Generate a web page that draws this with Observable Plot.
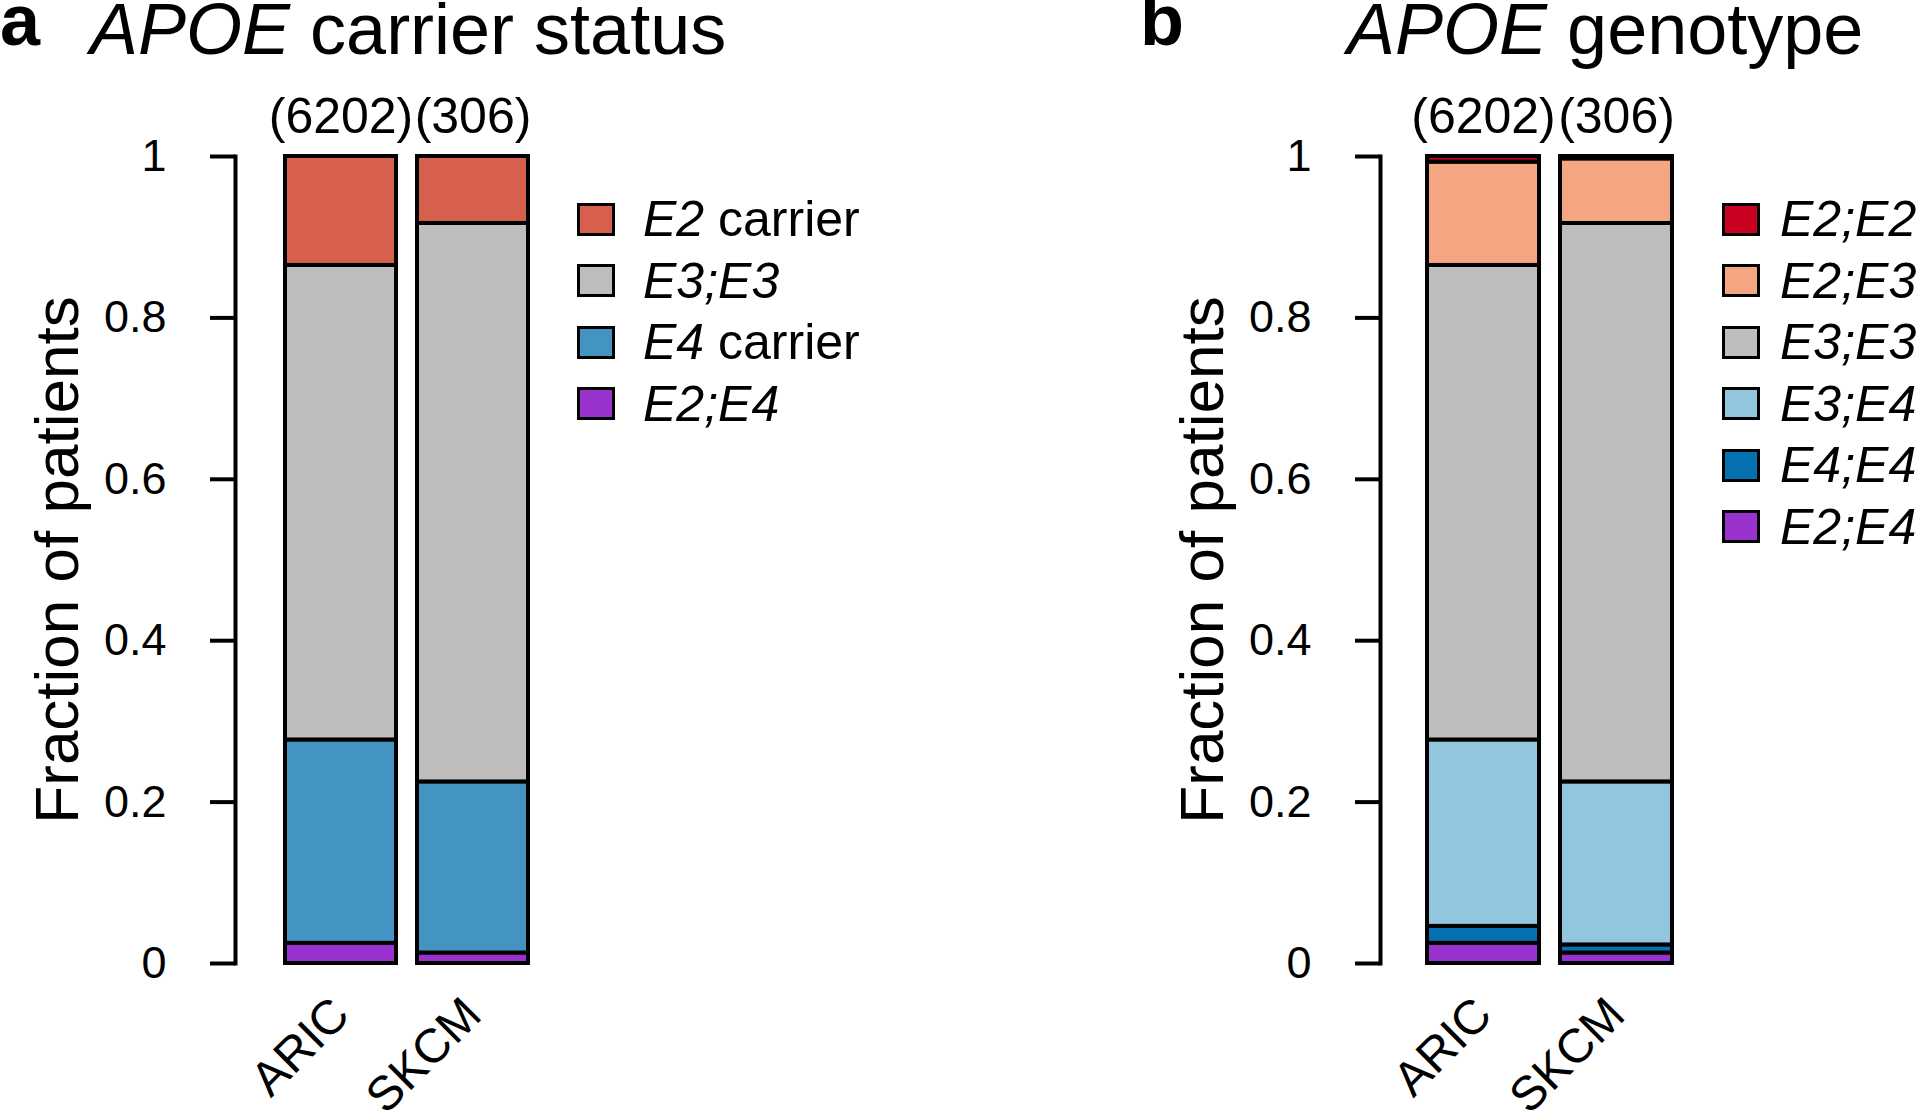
<!DOCTYPE html>
<html>
<head>
<meta charset="utf-8">
<script src="https://cdn.jsdelivr.net/npm/d3@7"></script>
<script src="https://cdn.jsdelivr.net/npm/@observablehq/plot@0.6"></script>
<style>
  html, body { margin: 0; padding: 0; background: #fff; }
  #root { position: relative; width: 1920px; height: 1116px; overflow: hidden; background: #fff;
          font-family: "Liberation Sans", Arial, Helvetica, sans-serif; color: #000; }
  .panel { position: absolute; top: 0; }
  .title { position: absolute; font-size: 72px; line-height: 72px; white-space: nowrap; }
  .letter { position: absolute; font-size: 72px; line-height: 72px; font-weight: bold; }
  .legend { position: absolute; }
  .row { position: absolute; left: 0; height: 50px; display: flex; align-items: center;
         font-size: 50px; line-height: 50px; white-space: nowrap; }
  .sw { box-sizing: border-box; width: 38px; height: 33px; border: 3px solid #000; }
  i { font-style: italic; }
</style>
</head>
<body>
<div id="root"></div>
<script>
// ---------------- data ----------------
const groups = ["ARIC", "SKCM"];
const groupCounts = ["(6202)", "(306)"];

const yTicks = [0, 0.2, 0.4, 0.6, 0.8, 1];
const yTickLabels = ["0", "0.2", "0.4", "0.6", "0.8", "1"];

// panel a: carrier status (bottom to top)
const carrierCats = ["E2;E4", "E4 carrier", "E3;E3", "E2 carrier"];
const carrierColors = ["#9A32CD", "#4393C3", "#BEBEBE", "#D6604D"];
const carrierARIC = [0.025, 0.252, 0.588, 0.135];
const carrierSKCM = [0.013, 0.212, 0.692, 0.083];
// legend order (top to bottom)
const carrierLegend = ["E2 carrier", "E3;E3", "E4 carrier", "E2;E4"];

// panel b: genotype (bottom to top)
const genoCats = ["E2;E4", "E4;E4", "E3;E4", "E3;E3", "E2;E3", "E2;E2"];
const genoColors = ["#9A32CD", "#0571B0", "#92C5DE", "#BEBEBE", "#F4A582", "#CA0020"];
const genoARIC = [0.025, 0.021, 0.231, 0.588, 0.128, 0.007];
const genoSKCM = [0.013, 0.010, 0.202, 0.692, 0.080, 0.003];
const genoLegend = ["E2;E2", "E2;E3", "E3;E3", "E3;E4", "E4;E4", "E2;E4"];

const yLabel = "Fraction of patients";
const titles = [{letter: "a", gene: "APOE", rest: " carrier status"},
                {letter: "b", gene: "APOE", rest: " genotype"}];

// ---------------- build ----------------
const FONT = '"Liberation Sans", Arial, Helvetica, sans-serif';
const root = document.getElementById("root");

function longData(cats, a, s) {
  const out = [];
  cats.forEach((c, i) => {
    out.push({group: groups[0], cat: c, value: a[i]});
    out.push({group: groups[1], cat: c, value: s[i]});
  });
  return out;
}
const countData = groups.map((g, i) => ({group: g, label: groupCounts[i]}));

function panel(opts) {
  const {left, axisX, xRange, cats, colors, data} = opts;
  const chart = Plot.plot({
    width: 960,
    height: 1116,
    marginLeft: axisX,
    marginRight: 20,
    marginTop: 156,
    marginBottom: 153,
    style: {fontFamily: FONT, fontSize: "48px", color: "#000", background: "transparent", overflow: "visible"},
    x: {type: "band", domain: groups, range: xRange, paddingInner: 0.157, paddingOuter: 0, axis: null},
    y: {domain: [0, 1], axis: null},
    color: {domain: cats, range: colors},
    marks: [
      Plot.barY(data, Plot.stackY({
        x: "group", y: "value", z: "cat", fill: "cat", order: cats,
        stroke: "#000", strokeWidth: 4, inset: 0
      })),
      Plot.frame({anchor: "left", strokeWidth: 4, stroke: "#000"}),
      Plot.axisY({
        ticks: yTicks, tickSize: 25, tickPadding: 44, strokeWidth: 4,
        tickFormat: (d) => yTickLabels[yTicks.indexOf(d)],
        fontSize: 45, label: null
      }),
      Plot.text(countData, {x: "group", text: "label", frameAnchor: "top", dy: -40,
        lineAnchor: "middle", fontSize: 50}),
      Plot.text(countData, {x: "group", text: "group", frameAnchor: "bottom", dy: 43,
        rotate: -45, textAnchor: "end", lineAnchor: "middle", fontSize: 48}),
      Plot.text([yLabel], {text: (d) => d, frameAnchor: "left", dx: -177, rotate: -90,
        textAnchor: "middle", lineAnchor: "middle", fontSize: 62})
    ]
  });
  const wrap = document.createElement("div");
  wrap.className = "panel";
  wrap.style.left = left + "px";
  wrap.appendChild(chart);
  root.appendChild(wrap);
}

panel({left: 0, axisX: 235, xRange: [284, 529], cats: carrierCats, colors: carrierColors,
       data: longData(carrierCats, carrierARIC, carrierSKCM)});
panel({left: 960, axisX: 420, xRange: [467, 713], cats: genoCats, colors: genoColors,
       data: longData(genoCats, genoARIC, genoSKCM)});

// titles
function addTitle(t, letterX, titleX) {
  const l = document.createElement("div");
  l.className = "letter";
  l.style.left = letterX + "px";
  l.style.top = "-16px";
  l.textContent = t.letter;
  root.appendChild(l);
  const d = document.createElement("div");
  d.className = "title";
  d.style.left = titleX + "px";
  d.style.top = "-7px";
  const g = document.createElement("i");
  g.textContent = t.gene;
  d.appendChild(g);
  d.appendChild(document.createTextNode(t.rest));
  root.appendChild(d);
}
addTitle(titles[0], 0, 90);
addTitle(titles[1], 1140, 1347);

// legends
function addLegend(items, cats, colors, x, y0, gap, italicAll) {
  const lg = document.createElement("div");
  lg.className = "legend";
  lg.style.left = x + "px";
  lg.style.top = "0px";
  items.forEach((name, i) => {
    const row = document.createElement("div");
    row.className = "row";
    row.style.top = (y0 + i * 61.5 - 25) + "px";
    const sw = document.createElement("div");
    sw.className = "sw";
    sw.style.marginRight = gap + "px";
    sw.style.background = colors[cats.indexOf(name)];
    row.appendChild(sw);
    const span = document.createElement("span");
    if (italicAll || !name.includes(" ")) {
      const it = document.createElement("i");
      it.textContent = name;
      span.appendChild(it);
    } else {
      const [a, ...rest] = name.split(" ");
      const it = document.createElement("i");
      it.textContent = a;
      span.appendChild(it);
      span.appendChild(document.createTextNode(" " + rest.join(" ")));
    }
    row.appendChild(span);
    lg.appendChild(row);
  });
  root.appendChild(lg);
}
addLegend(carrierLegend, carrierCats, carrierColors, 577, 219, 28, false);
addLegend(genoLegend, genoCats, genoColors, 1722, 219, 20, true);
</script>
</body>
</html>
